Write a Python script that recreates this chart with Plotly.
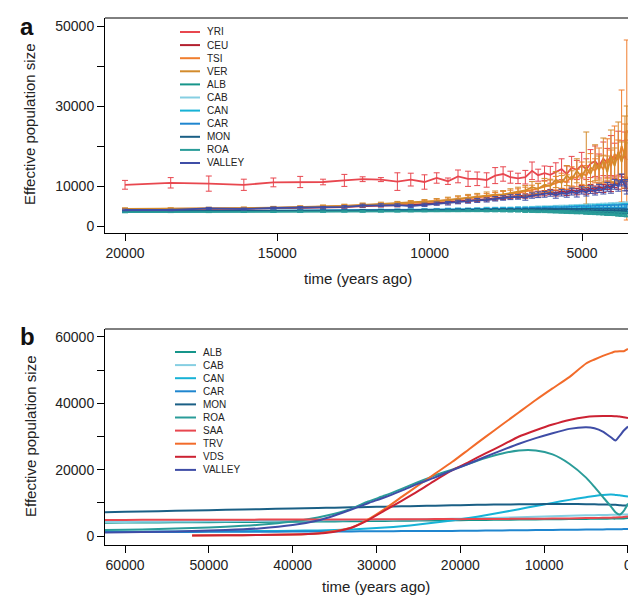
import plotly.graph_objects as go

W, H = 636, 595

# ---------------- Panel a data ----------------
times_a = [20000, 18500, 17250, 16100, 15130, 14250, 13500, 12800, 12200, 11600, 11060, 10620, 10170, 9770,
           9400, 9070, 8740, 8440, 8130, 7850, 7590, 7350, 7100, 6860, 6640, 6440, 6230, 6040, 5860, 5670,
           5500, 5340, 5170, 5010, 4860, 4720, 4570, 4440, 4300, 4170, 4050, 3930, 3810, 3700, 3590, 3530]

names_a = ["YRI", "CEU", "TSI", "VER", "ALB", "CAB", "CAN", "CAR", "MON", "ROA", "VALLEY"]
colors_a = ["#E8474F", "#B3202F", "#F07E2E", "#D38B2C", "#16958A", "#86CFE2", "#17B2D6", "#1F86CF",
            "#1A5F85", "#2A9C99", "#3F4DA6"]

YRI = [10300, 10800, 10600, 10300, 10900, 11000, 11000, 11400, 11700, 11600, 11100, 11600, 11000, 12000,
       11200, 12400, 11800, 11800, 11500, 12600, 13000, 12200, 11900, 12200, 13800, 12700, 13200, 12800,
       13500, 14200, 13000, 14600, 14000, 15200, 14200, 15600, 16200, 15000, 16800, 15800, 17600, 16500,
       18200, 16800, 17500, 16500]
YRI_err = [1100, 1300, 1900, 1400, 1100, 1400, 700, 1500, 600, 500, 2200, 1600, 1800, 1300, 800, 1600,
           1900, 1700, 1800, 2000, 1800, 1500, 1300, 1700, 2200, 1500, 1800, 2100, 2300, 2600, 2000, 2800,
           2400, 3200, 2600, 3500, 3800, 3000, 4200, 3600, 5000, 4200, 5500, 4500, 6000, 5000]
CEU = [4050, 4100, 4200, 4300, 4400, 4500, 4600, 4750, 4950, 5050, 5150, 5300, 5500, 5700, 5900, 6100,
       6350, 6550, 6700, 6950, 7150, 7350, 7500, 7500, 7900, 8100, 8200, 8500, 8200, 8700, 8400, 9000,
       8600, 9300, 8800, 9500, 9100, 9800, 9400, 10200, 9700, 10800, 10400, 11600, 10800, 10300]
CEU_err = [250, 250, 250, 250, 250, 300, 300, 300, 300, 300, 350, 350, 350, 400, 400, 400, 450, 450, 450,
           500, 500, 500, 550, 550, 600, 600, 650, 650, 700, 700, 750, 750, 800, 800, 850, 900, 900, 950,
           1000, 1050, 1100, 1150, 1200, 1300, 1400, 1500]
TSI = [4200, 4250, 4300, 4400, 4500, 4650, 4800, 5000, 5200, 5350, 5500, 5700, 5900, 6150, 6400, 6650,
       6900, 7050, 7300, 7500, 7750, 8000, 8300, 8600, 9000, 9400, 9800, 10200, 10700, 11300, 11000, 12400,
       12000, 13200, 12600, 14600, 13800, 15500, 14200, 16800, 15000, 18000, 16500, 20000, 17500, 24000]
TSI_err = [200, 200, 250, 250, 300, 300, 350, 350, 400, 400, 450, 450, 500, 550, 600, 650, 700, 750, 800,
           850, 900, 950, 1000, 1100, 1200, 1300, 1400, 1500, 1700, 1900, 1800, 2400, 2200, 2800, 2500,
           3500, 3000, 4000, 3500, 5000, 4000, 7000, 5000, 14000, 8000, 22500]
VER = [4300, 4300, 4400, 4450, 4600, 4700, 4850, 5050, 5300, 5500, 5650, 5850, 6050, 6250, 6550, 6850,
       7150, 7350, 7650, 7850, 7900, 8300, 8600, 8900, 9700, 9300, 10300, 10000, 11600, 10800, 12600,
       11600, 13800, 12200, 14500, 13000, 15800, 14000, 16500, 13500, 17500, 15000, 18500, 16000, 19500, 21000]
VER_err = [250, 250, 300, 300, 300, 350, 400, 400, 450, 450, 500, 500, 550, 600, 650, 700, 750, 800, 850,
           900, 950, 1000, 1100, 1200, 1400, 1300, 1600, 1500, 2000, 1800, 2500, 2200, 3000, 2600, 9000,
           3000, 4500, 3500, 5500, 4000, 6500, 4500, 7500, 5000, 8000, 9000]
ALB = [3550, 3550, 3600, 3600, 3650, 3650, 3700, 3700, 3750, 3750, 3800, 3800, 3850, 3850, 3850, 3900,
       3900, 3900, 3900, 3900, 3850, 3850, 3850, 3800, 3800, 3750, 3750, 3700, 3650, 3650, 3600, 3550,
       3500, 3500, 3450, 3400, 3350, 3300, 3250, 3200, 3150, 3100, 3050, 3000, 2950, 2900]
CAB = [3750, 3750, 3800, 3850, 3850, 3900, 3950, 3950, 4000, 4050, 4050, 4100, 4150, 4150, 4200, 4250,
       4250, 4300, 4350, 4350, 4400, 4400, 4450, 4500, 4500, 4550, 4600, 4600, 4650, 4700, 4700, 4750,
       4800, 4800, 4850, 4900, 4900, 4950, 5000, 4950, 5050, 5000, 5100, 5000, 5100, 5000]
CAN = [3600, 3600, 3650, 3700, 3700, 3750, 3800, 3800, 3850, 3900, 3900, 3950, 4000, 4000, 4050, 4100,
       4100, 4150, 4200, 4200, 4250, 4250, 4300, 4300, 4350, 4350, 4400, 4400, 4450, 4450, 4500, 4500,
       4550, 4550, 4600, 4600, 4650, 4650, 4700, 4650, 4700, 4700, 4650, 4700, 4650, 4600]
CAR = [3600, 3650, 3650, 3700, 3700, 3750, 3750, 3800, 3800, 3850, 3850, 3900, 3900, 3950, 3950, 4000,
       4000, 4050, 4050, 4100, 4100, 4100, 4150, 4150, 4200, 4200, 4200, 4250, 4250, 4250, 4300, 4300,
       4300, 4350, 4350, 4350, 4400, 4400, 4400, 4400, 4450, 4450, 4450, 4450, 4450, 4400]
MON = [3700, 3700, 3750, 3750, 3800, 3800, 3850, 3850, 3900, 3900, 3950, 3950, 4000, 4000, 4000, 4050,
       4050, 4050, 4100, 4100, 4100, 4100, 4100, 4100, 4100, 4100, 4100, 4100, 4050, 4050, 4050, 4000,
       4000, 4000, 3950, 3950, 3900, 3900, 3850, 3850, 3800, 3800, 3750, 3750, 3700, 3650]
ROA = [3450, 3500, 3500, 3550, 3550, 3600, 3600, 3650, 3650, 3700, 3700, 3750, 3750, 3800, 3800, 3800,
       3850, 3850, 3800, 3800, 3800, 3750, 3750, 3700, 3700, 3650, 3650, 3600, 3550, 3550, 3500, 3450,
       3400, 3400, 3350, 3300, 3250, 3200, 3150, 3100, 3100, 3050, 3000, 2950, 2900, 2850]
VALLEY_a = [4000, 4000, 4400, 4250, 4500, 4550, 4600, 4800, 5100, 5200, 5200, 5000, 5300, 5600, 5700,
            6000, 6200, 6400, 6500, 6800, 7000, 7200, 7300, 7100, 7600, 7800, 7900, 8200, 7700, 8300, 8000,
            8600, 8100, 8900, 8400, 9100, 8700, 9400, 9000, 9800, 9300, 10400, 10000, 11500, 10200, 9600]
err_low = [150, 150, 150, 150, 150, 150, 150, 150, 200, 200, 200, 200, 200, 200, 200, 200, 250, 250, 250,
           250, 250, 250, 250, 300, 300, 300, 300, 300, 300, 350, 350, 350, 350, 350, 400, 400, 400, 400,
           400, 450, 450, 450, 500, 500, 500, 550]
err_light = [150, 150, 150, 150, 200, 200, 200, 200, 200, 250, 250, 250, 250, 250, 300, 300, 300, 300,
             350, 350, 350, 350, 400, 400, 400, 450, 450, 450, 500, 500, 500, 550, 550, 600, 600, 650, 650,
             700, 700, 750, 750, 800, 800, 850, 900, 950]
VALLEY_a_err = [200, 200, 250, 250, 250, 300, 300, 300, 350, 350, 350, 400, 400, 400, 450, 450, 500, 500,
                500, 550, 550, 600, 600, 650, 650, 700, 700, 750, 750, 800, 800, 850, 850, 900, 900, 950,
                950, 1000, 1000, 1100, 1100, 1200, 1300, 1500, 1400, 1600]

series_a = [YRI, CEU, TSI, VER, ALB, CAB, CAN, CAR, MON, ROA, VALLEY_a]
errors_a = [YRI_err, CEU_err, TSI_err, VER_err, err_low, err_light, err_light, err_light, err_low, err_low,
            VALLEY_a_err]

# ---------------- Panel b data ----------------
times_b = [62400, 60000, 56000, 52000, 48000, 44000, 40000, 37000, 35000, 33000, 31000, 29000, 27000, 25000,
           23000, 21000, 19000, 17000, 15000, 13000, 11000, 9000, 7000, 5000, 4000, 3000, 2000, 1500, 1000,
           500, 0]
names_b = ["ALB", "CAB", "CAN", "CAR", "MON", "ROA", "SAA", "TRV", "VDS", "VALLEY"]
colors_b = ["#16958A", "#86CFE2", "#17B2D6", "#1F86CF", "#1A5F85", "#2A9C99", "#E8474F", "#F26B2A",
            "#CC2233", "#3F4DA6"]

ALB_b = [4000, 4050, 4100, 4150, 4200, 4250, 4300, 4350, 4400, 4450, 4500, 4550, 4600, 4650, 4700, 4750,
         4800, 4850, 4900, 4950, 5000, 5050, 5100, 5150, 5200, 5200, 5250, 5250, 5300, 5300, 5400]
CAB_b = [4200, 4250, 4300, 4400, 4450, 4550, 4650, 4700, 4750, 4800, 4850, 4900, 4950, 5000, 5100, 5200,
         5300, 5400, 5500, 5650, 5800, 5950, 6100, 6250, 6300, 6350, 6400, 6450, 6450, 6500, 6500]
CAN_b = [1300, 1300, 1350, 1400, 1450, 1500, 1600, 1700, 1850, 2000, 2250, 2550, 2950, 3450, 4050, 4700,
         5450, 6250, 7150, 8100, 9050, 10000, 10900, 11700, 12100, 12400, 12500, 12400, 12300, 12100, 11900]
CAR_b = [1200, 1200, 1250, 1250, 1300, 1300, 1350, 1350, 1400, 1400, 1450, 1450, 1500, 1500, 1550, 1550,
         1600, 1650, 1700, 1750, 1800, 1850, 1900, 1950, 2000, 2000, 2050, 2050, 2050, 2100, 2100]
MON_b = [7200, 7300, 7500, 7700, 7900, 8100, 8300, 8450, 8550, 8650, 8750, 8850, 8950, 9050, 9150, 9250,
         9350, 9450, 9500, 9550, 9600, 9650, 9650, 9600, 9550, 9500, 9450, 9400, 9300, 9200, 9300]
ROA_b = [1800, 1900, 2100, 2400, 2800, 3400, 4400, 5600, 6700, 8200, 10400, 12200, 14200, 16300, 18300,
         20000, 21800, 23500, 24900, 25800, 25800, 24600, 21800, 17600, 14800, 11800, 8800, 7200, 6500,
         7600, 9800]
SAA_b = [4850, 4850, 4900, 4900, 4900, 4950, 4950, 5000, 5000, 5000, 5000, 5050, 5050, 5050, 5100, 5100,
         5100, 5150, 5150, 5200, 5200, 5250, 5300, 5400, 5450, 5500, 5550, 5600, 5650, 5750, 5900]
TRV_b = [None, None, None, 200, 250, 300, 450, 800, 1500, 2500, 5000, 8200, 11800, 15300, 18800, 22300,
         26100, 29900, 33600, 37300, 41000, 44500, 47900, 52000, 53200, 54300, 55200, 55600, 55700, 55700,
         56400]
VDS_b = [None, None, None, 200, 250, 300, 450, 750, 1300, 2500, 4800, 7700, 10600, 13600, 16800, 19800,
         22300, 24900, 27400, 30000, 31900, 33600, 35000, 35900, 36100, 36200, 36200, 36100, 36000, 35800,
         35600]
VALLEY_b = [1100, 1150, 1300, 1500, 1800, 2300, 3300, 4700, 6200, 8000, 9900, 11700, 13700, 15800, 17700,
            19800, 21800, 23900, 25900, 27800, 29500, 31000, 32300, 32800, 32500, 31500, 29700, 28800, 30200,
            31800, 33000]
series_b = [ALB_b, CAB_b, CAN_b, CAR_b, MON_b, ROA_b, SAA_b, TRV_b, VDS_b, VALLEY_b]

# ---------------- tick labels ----------------
xa_ticks = [20000, 15000, 10000, 5000]
xa_labels = ["20000", "15000", "10000", "5000"]
ya_ticks = [0, 10000, 20000, 30000, 40000, 50000]
ya_labels = ["0", "10000", "", "30000", "", "50000"]
xb_ticks = [60000, 50000, 40000, 30000, 20000, 10000, 0]
xb_labels = ["60000", "50000", "40000", "30000", "20000", "10000", "0"]
yb_ticks = [0, 10000, 20000, 30000, 40000, 50000, 60000]
yb_labels = ["0", "", "20000", "", "40000", "", "60000"]

FONT = "Liberation Sans, Arial, Helvetica, sans-serif"


def px(x):
    return x / W


def py(y):
    return 1 - y / H


fig = go.Figure()

for name, col, ys, err in zip(names_a, colors_a, series_a, errors_a):
    fig.add_trace(go.Scatter(
        x=times_a, y=ys, name=name, mode="lines", xaxis="x", yaxis="y",
        line=dict(color=col, width=1.8),
        error_y=dict(type="data", array=err, visible=True, color=col, thickness=1, width=3),
        showlegend=False))

for name, col, ys in zip(names_b, colors_b, series_b):
    fig.add_trace(go.Scatter(
        x=times_b, y=ys, name=name, mode="lines", xaxis="x2", yaxis="y2",
        line=dict(color=col, width=2, shape="spline", smoothing=0.6),
        showlegend=False))

axis_common = dict(showline=True, linecolor="black", linewidth=1, ticks="outside", ticklen=7,
                   tickwidth=1, tickcolor="black", showgrid=False, zeroline=False,
                   tickfont=dict(family=FONT, size=14, color="#222"))

fig.update_layout(
    width=W, height=H, margin=dict(l=0, r=0, t=0, b=0),
    paper_bgcolor="white", plot_bgcolor="white",
    font=dict(family=FONT, color="#222"),
    xaxis=dict(domain=[px(97), 1.0], range=[20657, 2965], anchor="y", tickmode="array",
               tickvals=xa_ticks, ticktext=xa_labels, **axis_common),
    yaxis=dict(domain=[py(225), py(10)], range=[-1750, 52000], anchor="x", tickmode="array",
               tickvals=ya_ticks, ticktext=ya_labels, **axis_common),
    xaxis2=dict(domain=[px(97), 1.0], range=[62390, -1910], anchor="y2", tickmode="array",
                tickvals=xb_ticks, ticktext=xb_labels, **axis_common),
    yaxis2=dict(domain=[py(537), py(321)], range=[-2700, 62400], anchor="x2", tickmode="array",
                tickvals=yb_ticks, ticktext=yb_labels, **axis_common),
)

shapes = []
annotations = []
for ytop in (10, 321):
    shapes.append(dict(type="line", xref="paper", yref="paper", x0=px(97), x1=1.0, y0=py(ytop), y1=py(ytop),
                       line=dict(color="black", width=1)))

leg_step = 13.1
leg_a_y0 = 24
for i, (name, col) in enumerate(zip(names_a, colors_a)):
    yy = leg_a_y0 + i * leg_step
    shapes.append(dict(type="line", xref="paper", yref="paper", x0=px(172), x1=px(192), y0=py(yy), y1=py(yy),
                       line=dict(color=col, width=2)))
    annotations.append(dict(text=name, xref="paper", yref="paper", x=px(197), y=py(yy), xanchor="left",
                            yanchor="middle", showarrow=False, font=dict(family=FONT, size=10, color="#222")))
leg_b_y0 = 344
for i, (name, col) in enumerate(zip(names_b, colors_b)):
    yy = leg_b_y0 + i * leg_step
    shapes.append(dict(type="line", xref="paper", yref="paper", x0=px(167), x1=px(188), y0=py(yy), y1=py(yy),
                       line=dict(color=col, width=2)))
    annotations.append(dict(text=name, xref="paper", yref="paper", x=px(193), y=py(yy), xanchor="left",
                            yanchor="middle", showarrow=False, font=dict(family=FONT, size=10, color="#222")))

for (xx, yy) in ((350, 271), (368, 578)):
    annotations.append(dict(text="time (years ago)", xref="paper", yref="paper", x=px(xx), y=py(yy),
                            xanchor="center", yanchor="middle", showarrow=False,
                            font=dict(family=FONT, size=15, color="#222")))
for (xx, yy) in ((22, 116), (22, 428)):
    annotations.append(dict(text="Effective population size", xref="paper", yref="paper", x=px(xx), y=py(yy),
                            xanchor="center", yanchor="middle", textangle=-90, showarrow=False,
                            font=dict(family=FONT, size=15, color="#222")))
for (txt, yy) in (("a", 18), ("b", 328)):
    annotations.append(dict(text="<b>" + txt + "</b>", xref="paper", yref="paper", x=px(19), y=py(yy),
                            xanchor="center", yanchor="middle", showarrow=False,
                            font=dict(family=FONT, size=24, color="#111")))

fig.update_layout(shapes=shapes, annotations=annotations)
fig.write_html("out.html")
